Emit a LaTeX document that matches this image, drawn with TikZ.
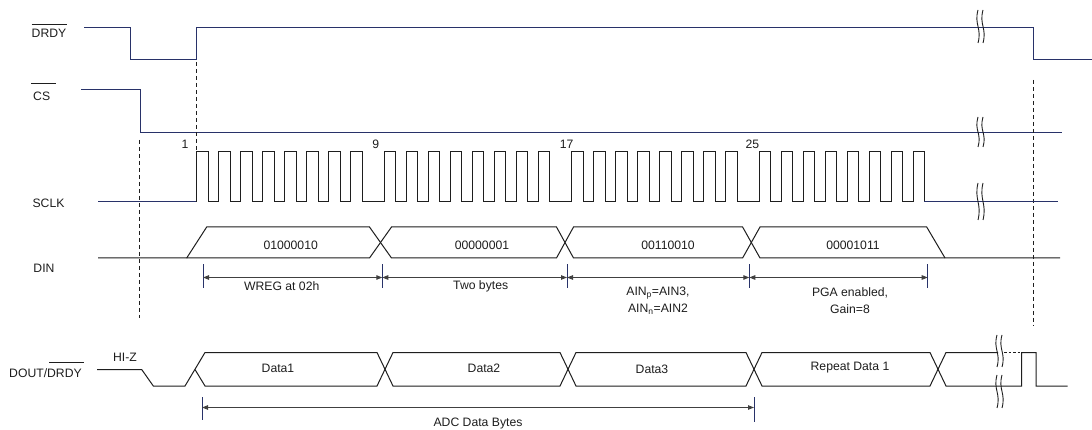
\documentclass[tikz,border=0pt]{standalone}
\usepackage{fontspec}
\setmainfont{Liberation Sans}
\usetikzlibrary{arrows.meta}
\definecolor{navy}{RGB}{40,50,105}
\definecolor{ink}{RGB}{30,30,30}
\newcommand\brkmark[3]{%
  \foreach \dx in {0,5}{%
    \draw[brk] ({#1+\dx},#2) .. controls ({#1+\dx-4},{#2+0.45*(#3-#2)}) and ({#1+\dx+4},{#2+0.55*(#3-#2)}) .. ({#1+\dx},#3);}}
\begin{document}
\begin{tikzpicture}[x=1pt,y=-1pt,
  every node/.style={font=\fontsize{12.2}{14}\selectfont, inner sep=0pt, text=ink},
  sig/.style={navy, line width=1pt},
  wire/.style={ink, line width=1pt},
  guide/.style={ink, line width=0.9pt, dash pattern=on 4pt off 3pt},
  tickln/.style={navy, line width=1pt},
  dimln/.style={ink!85, line width=0.9pt, {Triangle[length=6pt,width=4.5pt]}-{Triangle[length=6pt,width=4.5pt]}},
  brk/.style={ink, line width=0.9pt},
  ovl/.style={ink, line width=0.8pt}]
\useasboundingbox[fill=white] (0,0) rectangle (1092,430);

% ---------- labels ----------
\node (lDRDY) at (49,33) {DRDY};
\draw[ovl] (31.5,24) -- (66.5,24);
\node (lCS) at (41.7,96.7) {CS};
\draw[ovl] (31,83.3) -- (56,83.3);
\node (lSCLK) at (48.5,203) {SCLK};
\node (lDIN) at (44,268) {DIN};
\node[anchor=west] (lDOUT) at (9,373) {DOUT/DRDY};
\draw[ovl] (49,362.7) -- (84,362.7);
\node (lHIZ) at (125,357) {HI-Z};

% ---------- DRDY ----------
\draw[sig] (84,28) -- (130,28) -- (130,59.3) -- (196.7,59.3) -- (196.7,28) -- (1033,28) -- (1033,59.3) -- (1092,59.3);
\brkmark{978}{10}{43}

% ---------- CS ----------
\draw[sig] (81,90) -- (140,90) -- (140,132.3) -- (1062,132.3);
\brkmark{978}{117}{147}

% ---------- guides ----------
\draw[guide] (196.7,62) -- (196.7,152);
\draw[guide] (139,140) -- (139,318);
\draw[guide] (1033,80) -- (1033,326);

% ---------- SCLK ----------
\draw[sig] (98,202) -- (196.7,202);
\draw[wire] (196.7,202)
  \foreach \b in {0,...,3}{\foreach \k in {0,...,7}{
    -- ({196.7+187.5*\b+22*\k},202) -- ++(0,-50) -- ++(11.5,0) -- ++(0,50)}};
\draw[sig] (924.2,202) -- (1058,202);
\brkmark{978}{183}{220}
\node (n1) at (185,144) {1};
\node (n9) at (375.7,144) {9};
\node (n17) at (566.7,144) {17};
\node (n25) at (752.3,144) {25};

% ---------- DIN ----------
\draw[wire] (98,258) -- (186.7,258) -- (206.7,227) -- (369.5,227) -- (391.5,258) -- (556.5,258) -- (573.5,227) -- (742.6,227) -- (760,258) -- (1060,258);
\draw[wire] (186.7,258) -- (369.5,258) -- (391.5,227) -- (556.5,227) -- (573.5,258) -- (742.6,258) -- (760,227) -- (926.7,227) -- (945,258);
\node (b1) at (290.7,245) {01000010};
\node (b2) at (482,245) {00000001};
\node (b3) at (668,245) {00110010};
\node (b4) at (853,245) {00001011};

% ---------- DIN annotations ----------
\coordinate (t1) at (203,277.5);
\coordinate (t2) at (382.3,277.5);
\coordinate (t3) at (567,277.5);
\coordinate (t4) at (749.3,277.5);
\coordinate (t5) at (927.7,277.5);
\foreach \t in {t1,t2,t3,t4,t5}{\draw[tickln] ([yshift=-10.5pt]\t) -- ([yshift=13.5pt]\t);}
\draw[dimln] (t1) -- (t2);
\draw[dimln] (t2) -- (t3);
\draw[dimln] (t3) -- (t4);
\draw[dimln] (t4) -- (t5);
\node (aW) at (281.7,286) {WREG at 02h};
\node (aT) at (480.7,286) {Two bytes};
\node (aP) at (658,293) {AIN\textsubscript{p}=AIN3,};
\node (aN) at (658,309) {AIN\textsubscript{n}=AIN2};
\node (aG) at (850,293) {PGA enabled,};
\node (aG2) at (850,309) {Gain=8};

% ---------- DOUT/DRDY ----------
\draw[wire] (97,369.5) -- (141.7,369.5) -- (153.3,386) -- (185,386) -- (205,352.5) -- (377,352.5) -- (393,386) -- (560,386) -- (576,352.5) -- (746,352.5) -- (762,386) -- (930,386) -- (946,352.5) -- (998,352.5);
\draw[wire] (195,369.5) -- (205,386) -- (377,386) -- (393,352.5) -- (560,352.5) -- (576,386) -- (746,386) -- (762,352.5) -- (930,352.5) -- (946,386) -- (1021.7,386) -- (1021.7,352.5) -- (1036,352.5) -- (1036,386) -- (1067.5,386);
\draw[wire, dash pattern=on 2.5pt off 2pt] (1004,352.5) -- (1021.7,352.5);
\brkmark{997}{335}{367}
\brkmark{997}{375}{408}
\node (d1) at (278,368) {Data1};
\node (d2) at (484,368) {Data2};
\node (d3) at (652,369) {Data3};
\node (d4) at (850,368) {Repeat Data 1};

% ---------- ADC annotation ----------
\coordinate (u1) at (202,407.5);
\coordinate (u2) at (754,407.5);
\draw[tickln] (202,397) -- (202,420);
\draw[tickln] (754,397) -- (754,422);
\draw[dimln] (u1) -- (u2);
\node (aADC) at (478,424) {ADC Data Bytes};
\end{tikzpicture}
\end{document}
